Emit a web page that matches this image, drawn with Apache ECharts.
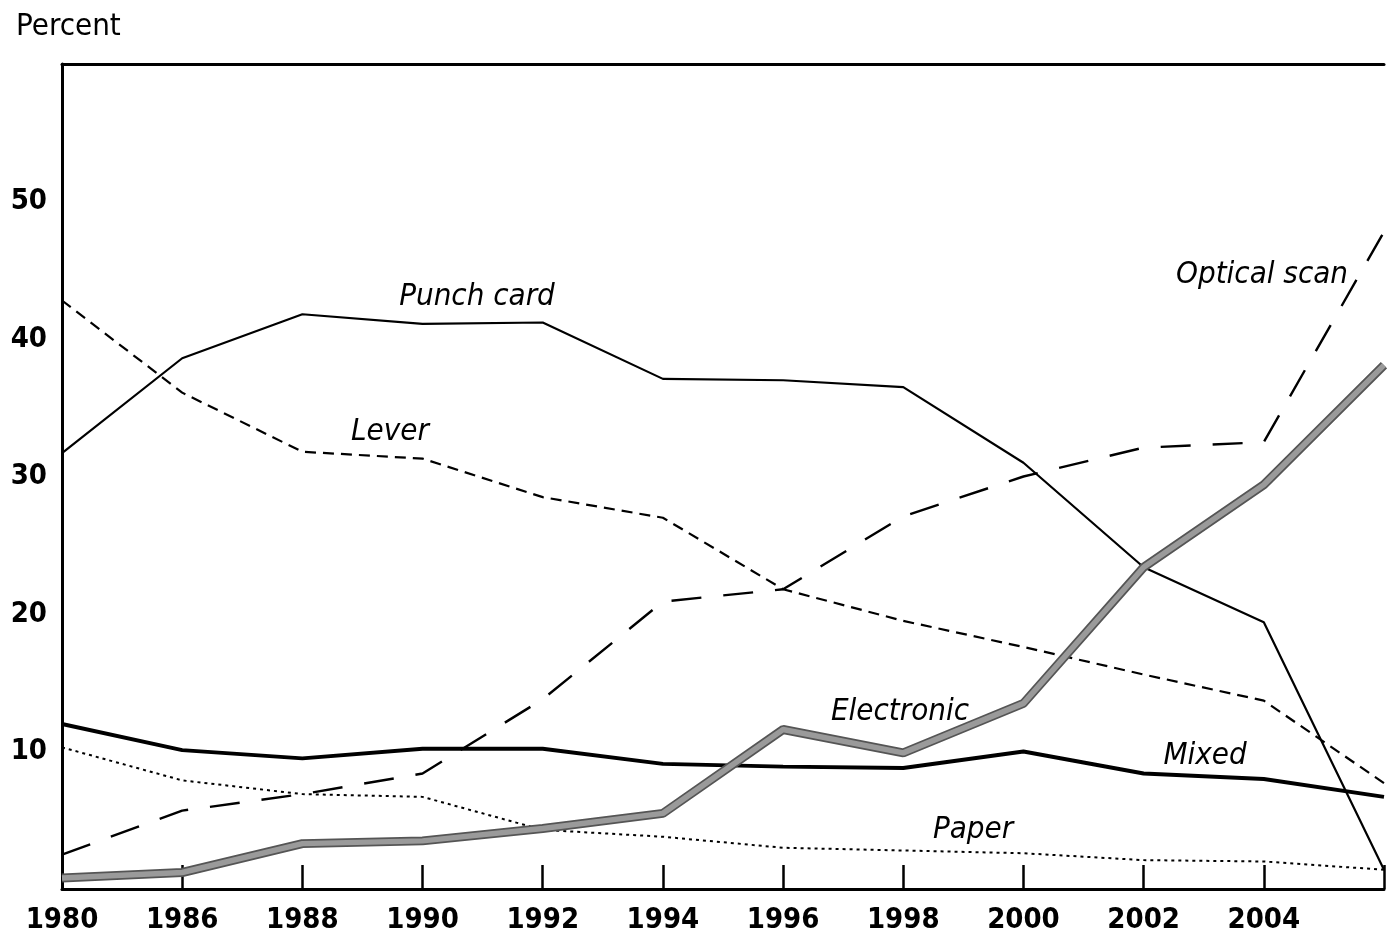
<!DOCTYPE html>
<html>
<head>
<meta charset="utf-8">
<script src="https://cdn.jsdelivr.net/npm/echarts@6/dist/echarts.min.js"></script>
<style>html,body{margin:0;padding:0;background:#fff;}#c{width:1387px;height:940px;}</style>
</head>
<body>
<div id="c"></div>
<script>
const years = ['1980','1986','1988','1990','1992','1994','1996','1998','2000','2002','2004','2006'];
const xTickLabels = ['1980','1986','1988','1990','1992','1994','1996','1998','2000','2002','2004',''];
const yTickLabels = [10, 20, 30, 40, 50];
const punchCard  = [31.7, 38.6, 41.8, 41.1, 41.2, 37.1, 37.0, 36.5, 31.0, 23.4, 19.4, 1.4];
const lever      = [42.8, 36.1, 31.8, 31.3, 28.5, 27.0, 21.8, 19.5, 17.6, 15.6, 13.7, 7.7];
const opticalScan= [2.5, 5.7, 6.9, 8.4, 13.8, 20.9, 21.8, 27.1, 30.0, 32.1, 32.5, 47.8];
const electronic = [0.8, 1.2, 3.3, 3.5, 4.4, 5.5, 11.6, 9.9, 13.5, 23.4, 29.4, 38.1];
const mixed      = [12.0, 10.1, 9.5, 10.2, 10.2, 9.1, 8.9, 8.8, 10.0, 8.4, 8.0, 6.7];
const paper      = [10.3, 7.9, 6.9, 6.7, 4.3, 3.8, 3.0, 2.8, 2.6, 2.1, 2.0, 1.4];
const seriesNames = ['Punch card','Lever','Optical scan','Electronic','Mixed','Paper'];

const FONT = '"Liberation Sans Narrow", "DejaVu Sans Condensed", "Liberation Sans", sans-serif';
const chart = echarts.init(document.getElementById('c'), null, {renderer: 'canvas'});

function lbl(text, x, y) {
  return {type: 'text', x: x, y: y, style: {text: text, font: 'italic 31px ' + FONT, fill: '#000', textAlign: 'center', textVerticalAlign: 'middle'}};
}

chart.setOption({
  backgroundColor: '#fff',
  animation: false,
  title: {text: 'Percent', left: 11, top: 6, textStyle: {fontFamily: FONT, fontSize: 31, fontWeight: 'normal', color: '#000'}},
  grid: {left: 62, right: 2, top: 64, bottom: 51, containLabel: false},
  xAxis: [{
    type: 'category', data: years, boundaryGap: false,
    axisLine: {lineStyle: {color: '#000', width: 3}},
    axisTick: {inside: true, length: 24, lineStyle: {color: '#000', width: 2.5}},
    axisLabel: {margin: 17, fontFamily: FONT, fontSize: 29, fontWeight: 'bold', color: '#000',
      formatter: function (v, i) { return xTickLabels[i]; }},
    splitLine: {show: false}
  }, {
    type: 'category', data: years, boundaryGap: false, position: 'top',
    axisLine: {lineStyle: {color: '#000', width: 3}},
    axisTick: {show: false}, axisLabel: {show: false}
  }],
  yAxis: {
    type: 'value', min: 0, max: 60, interval: 10,
    axisLine: {show: true, lineStyle: {color: '#000', width: 3}},
    axisTick: {inside: true, length: 28, lineStyle: {color: '#000', width: 2.5}},
    axisLabel: {margin: 15, fontFamily: FONT, fontSize: 29, fontWeight: 'bold', color: '#000',
      formatter: function (v) { return yTickLabels.indexOf(v) >= 0 ? String(v) : ''; }},
    splitLine: {show: false}
  },
  series: [
    {name: seriesNames[0], type: 'line', data: punchCard, symbol: 'none', lineStyle: {color: '#000', width: 2.2}, z: 3},
    {name: seriesNames[1], type: 'line', data: lever, symbol: 'none', lineStyle: {color: '#000', width: 2.2, type: [11, 7]}, z: 3},
    {name: seriesNames[2], type: 'line', data: opticalScan, symbol: 'none', lineStyle: {color: '#000', width: 2.4, type: [30, 22]}, z: 3},
    {name: seriesNames[3], type: 'line', data: electronic, symbol: 'none', lineStyle: {color: '#555', width: 9}, z: 4},
    {name: seriesNames[3] + ' fill', type: 'line', data: electronic, symbol: 'none', lineStyle: {color: '#9a9a9a', width: 5.5}, z: 5},
    {name: seriesNames[4], type: 'line', data: mixed, symbol: 'none', lineStyle: {color: '#000', width: 4}, z: 3},
    {name: seriesNames[5], type: 'line', data: paper, symbol: 'none', lineStyle: {color: '#000', width: 2, type: [3, 4]}, z: 3}
  ],
  graphic: [
    lbl('Punch card', 477, 297),
    lbl('Lever', 390, 432),
    lbl('Optical scan', 1262, 275),
    lbl('Electronic', 900, 712),
    lbl('Mixed', 1205, 756),
    lbl('Paper', 973, 830)
  ]
});
</script>
</body>
</html>
